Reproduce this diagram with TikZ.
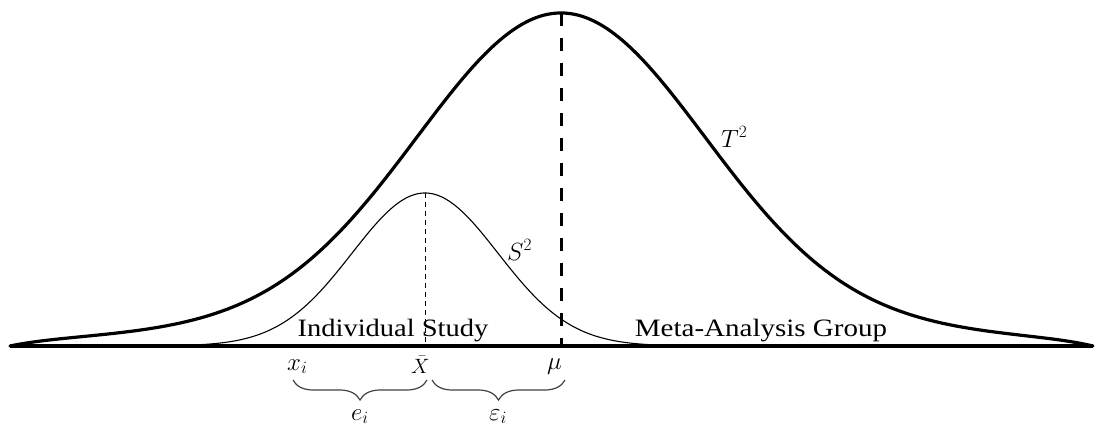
\documentclass[tikz,border=0pt]{standalone}
\usepackage{fontspec}
\usepackage{graphicx}
\setmainfont{Liberation Serif}
\usetikzlibrary{decorations.pathreplacing}
\begin{document}
\begin{tikzpicture}[x=1pt,y=-1pt,
  bigcurve/.style={line width=3.2pt, line join=round, line cap=round},
  smallcurve/.style={line width=1.1pt},
  axisline/.style={line width=3.2pt},
  mudash/.style={line width=3pt, dash pattern=on 13pt off 12pt},
  xbardash/.style={line width=1pt, dash pattern=on 5pt off 4pt},
  lbl/.style={font=\fontsize{25pt}{30pt}\selectfont, inner sep=0pt},
  smlbl/.style={font=\fontsize{22pt}{26pt}\selectfont, inner sep=0pt},
  bracestyle/.style={draw=black!75, line width=1.2pt, decorate,
     decoration={brace, mirror, amplitude=20pt}}
]
\useasboundingbox (0,0) rectangle (1096,429);

% axis
\coordinate (axL) at (10,346);
\coordinate (axR) at (1093,346);
\draw[axisline] (axL) -- (axR);

% big (meta-analysis) curve
\draw[bigcurve] plot[domain=10:1093, samples=400]
  (\x, {346-333*(0.9*exp(-0.5*((\x-561)/142)^2)+0.1*exp(-0.5*((\x-561)/300)^2))
        *(1-exp(-((\x<561)?(\x-10):(1093-\x))/30))});

% small (individual study) curve
\draw[smallcurve] plot[domain=178:692, samples=160]
   (\x, {346-153*exp(-0.5*((\x-425)/73)^2)});

% vertical dashed lines
\coordinate (mutop) at (561,13);
\coordinate (mubase) at (561,346);
\draw[mudash] (mutop) -- (mubase);
\coordinate (xbartop) at (425,193);
\coordinate (xbarbase) at (425,346);
\draw[xbardash] (xbartop) -- (xbarbase);

% curve labels
\node[lbl, anchor=base west] (T2) at (721,147) {$T^2$};
\node[lbl, anchor=base west] (S2) at (507,260) {$S^2$};

% region labels
\node[lbl, anchor=base] (ind) at (393,336) {\scalebox{1.14}[1]{Individual Study}};
\node[lbl, anchor=base] (meta) at (761,336) {\scalebox{1.16}[1]{Meta-Analysis Group}};

% axis labels
\node[lbl, anchor=base west] (xi) at (287,370) {$x_i$};
\node[smlbl, anchor=base west] (xbar) at (411,373) {$\bar{X}$};
\node[lbl, anchor=base west] (mu) at (547,369) {$\mu$};

% braces
\coordinate (b1l) at (293,380);
\coordinate (b1r) at (427,380);
\coordinate (b2l) at (432,380);
\coordinate (b2r) at (565,380);
\draw[bracestyle] (b1l) -- (b1r);
\draw[bracestyle] (b2l) -- (b2r);
\node[lbl, anchor=base west] (ei) at (351,420) {$e_i$};
\node[lbl, anchor=base west] (epsi) at (489,420) {$\varepsilon_i$};
\end{tikzpicture}
\end{document}
